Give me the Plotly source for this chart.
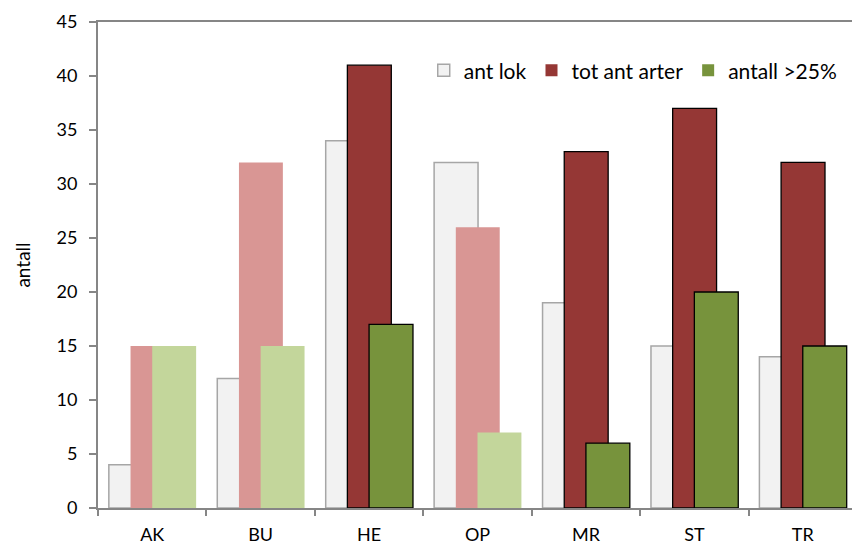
import plotly.graph_objects as go

categories = ["AK", "BU", "HE", "OP", "MR", "ST", "TR"]
ant_lok = [4, 12, 34, 32, 19, 15, 14]
tot_ant_arter = [15, 32, 41, 26, 33, 37, 32]
antall_25 = [15, 15, 17, 7, 6, 20, 15]
pale = [True, True, False, True, False, False, False]

series_names = ["ant lok", "tot ant arter", "antall >25%"]
y_ticks = [0, 5, 10, 15, 20, 25, 30, 35, 40, 45]

FONT = "Lato"
BW = 0.405

grey_fill, grey_line = "#F2F2F2", "#A6A6A6"
red, red_pale = "#953735", "#D99694"
green, green_pale = "#77933C", "#C3D69B"

fig = go.Figure()

fig.add_trace(go.Bar(
    x=categories, y=ant_lok, width=BW, offset=-0.4, showlegend=False,
    marker=dict(color=grey_fill, line=dict(color=grey_line, width=1.5)),
))
fig.add_trace(go.Bar(
    x=categories, y=tot_ant_arter, width=BW, offset=-0.2, showlegend=False,
    marker=dict(color=[red_pale if p else red for p in pale],
                line=dict(color="#000000", width=[0 if p else 1.3 for p in pale])),
))
fig.add_trace(go.Bar(
    x=categories, y=antall_25, width=BW, offset=0.0, showlegend=False,
    marker=dict(color=[green_pale if p else green for p in pale],
                line=dict(color="#000000", width=[0 if p else 1.3 for p in pale])),
))

# legend entries
fig.add_trace(go.Bar(x=[None], y=[None], name=series_names[0],
                     marker=dict(color=grey_fill, line=dict(color=grey_line, width=1.5))))
fig.add_trace(go.Bar(x=[None], y=[None], name=series_names[1],
                     marker=dict(color=red, line=dict(width=0))))
fig.add_trace(go.Bar(x=[None], y=[None], name=series_names[2],
                     marker=dict(color=green, line=dict(width=0))))

fig.update_layout(
    width=852, height=546,
    margin=dict(l=98, r=0, t=22, b=38),
    barmode="overlay",
    plot_bgcolor="white", paper_bgcolor="white",
    font=dict(family=FONT, size=18, color="#000000"),
    legend=dict(orientation="h", x=0.432, y=0.942, xanchor="left", yanchor="top",
                bgcolor="rgba(0,0,0,0)", font=dict(size=21), traceorder="normal",
                itemwidth=30),
)
fig.update_xaxes(
    type="category", categoryorder="array", categoryarray=categories,
    range=[-0.5, 6.454], automargin=False,
    showline=True, linecolor="#868686", linewidth=2, mirror=True,
    ticks="outside", tickson="boundaries", ticklen=6, tickcolor="#868686", tickwidth=1.5,
    ticklabelstandoff=9,
    showgrid=False, tickfont=dict(size=18),
)
fig.update_yaxes(
    range=[0, 45], tickvals=y_ticks, automargin=False,
    showline=True, linecolor="#868686", linewidth=2,
    ticks="outside", ticklen=7, tickcolor="#868686", tickwidth=1.5,
    ticklabelstandoff=8,
    showgrid=False, zeroline=False, tickfont=dict(size=18),
    title=dict(text="antall", font=dict(size=19), standoff=21),
)

fig.write_html("out.html", config={"displayModeBar": False},
               post_script="document.body.style.margin='0';")
